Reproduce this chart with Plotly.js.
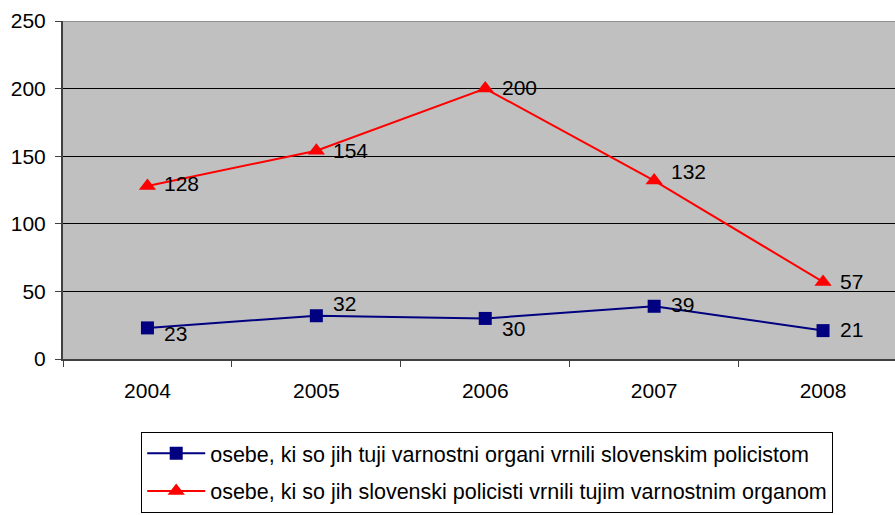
<!DOCTYPE html>
<html><head><meta charset="utf-8">
<script src="https://cdn.plot.ly/plotly-3.0.1.min.js"></script>
<style>html,body{margin:0;padding:0;background:#fff}#c{width:895px;height:515px}</style>
</head><body><div id="c"></div>
<script>
const years = ['2004','2005','2006','2007','2008'];
const tujiVrnili = [23, 32, 30, 39, 21];
const slovenskiVrnili = [128, 154, 200, 132, 57];
const name1 = 'osebe, ki so jih tuji varnostni organi vrnili slovenskim policistom';
const name2 = 'osebe, ki so jih slovenski policisti vrnili tujim varnostnim organom';
const yTicks = [0, 50, 100, 150, 200, 250];

const idx = years.map((_, i) => i);
const font = {family: 'Arial, "Liberation Sans", sans-serif', size: 21, color: '#000'};

const traces = [
  {x: idx, y: tujiVrnili, name: name1, legendgroup: 'a', mode: 'lines+markers', type: 'scatter',
   line: {color: '#000080', width: 2}, marker: {symbol: 'square', size: 13, color: '#000080'}},
  {x: idx, y: slovenskiVrnili, name: name2, legendgroup: 'b', mode: 'lines+markers', type: 'scatter',
   line: {color: '#FF0000', width: 2}, marker: {symbol: 'triangle-up', size: 15, color: '#FF0000'}}
];

const blueShift = [-6, 12, -10, 2, 1];
const redShift = [2, 0, 1, 9, 0];
const annotations = [];
idx.forEach(i => {
  annotations.push({x: i, y: tujiVrnili[i], text: String(tujiVrnili[i]), showarrow: false,
    xanchor: 'left', yanchor: 'middle', xshift: 15, yshift: blueShift[i], font: font});
  annotations.push({x: i, y: slovenskiVrnili[i], text: String(slovenskiVrnili[i]), showarrow: false,
    xanchor: 'left', yanchor: 'middle', xshift: 15, yshift: redShift[i], font: font});
});

const layout = {
  width: 895, height: 515,
  margin: {l: 63, r: 0, t: 21, b: 156},
  paper_bgcolor: '#fff', plot_bgcolor: '#C0C0C0',
  font: font,
  showlegend: true,
  legend: {x: 0.094, xanchor: 'left', y: -0.215, yanchor: 'top', orientation: 'v',
    bordercolor: '#000', borderwidth: 1, bgcolor: '#fff', font: {family: font.family, size: 21.5, color: '#000'},
    traceorder: 'grouped', tracegroupgap: 7, itemwidth: 58},
  xaxis: {range: [-0.5, 4.426], tickvals: idx, ticktext: years, ticks: '', showgrid: false,
    zeroline: false, showline: true, linecolor: '#404040', linewidth: 1.5,
    ticklabelstandoff: 12, tickfont: font,
    minor: {tickvals: [-0.5, 0.5, 1.5, 2.5, 3.5], ticks: 'outside', ticklen: 6, tickcolor: '#404040', tickwidth: 1, showgrid: false}},
  yaxis: {range: [0, 250], tickvals: yTicks, ticks: 'outside', ticklen: 6, tickcolor: '#404040',
    showgrid: true, gridcolor: '#000', gridwidth: 1, zeroline: false,
    showline: true, linecolor: '#404040', linewidth: 2, ticklabelstandoff: 5, tickfont: font},
  shapes: [{type: 'line', xref: 'paper', yref: 'y', x0: 0, x1: 1, y0: 250, y1: 250,
    line: {color: '#909090', width: 2}}],
  annotations: annotations
};

Plotly.newPlot('c', traces, layout, {displayModeBar: false, staticPlot: true});
</script></body></html>
